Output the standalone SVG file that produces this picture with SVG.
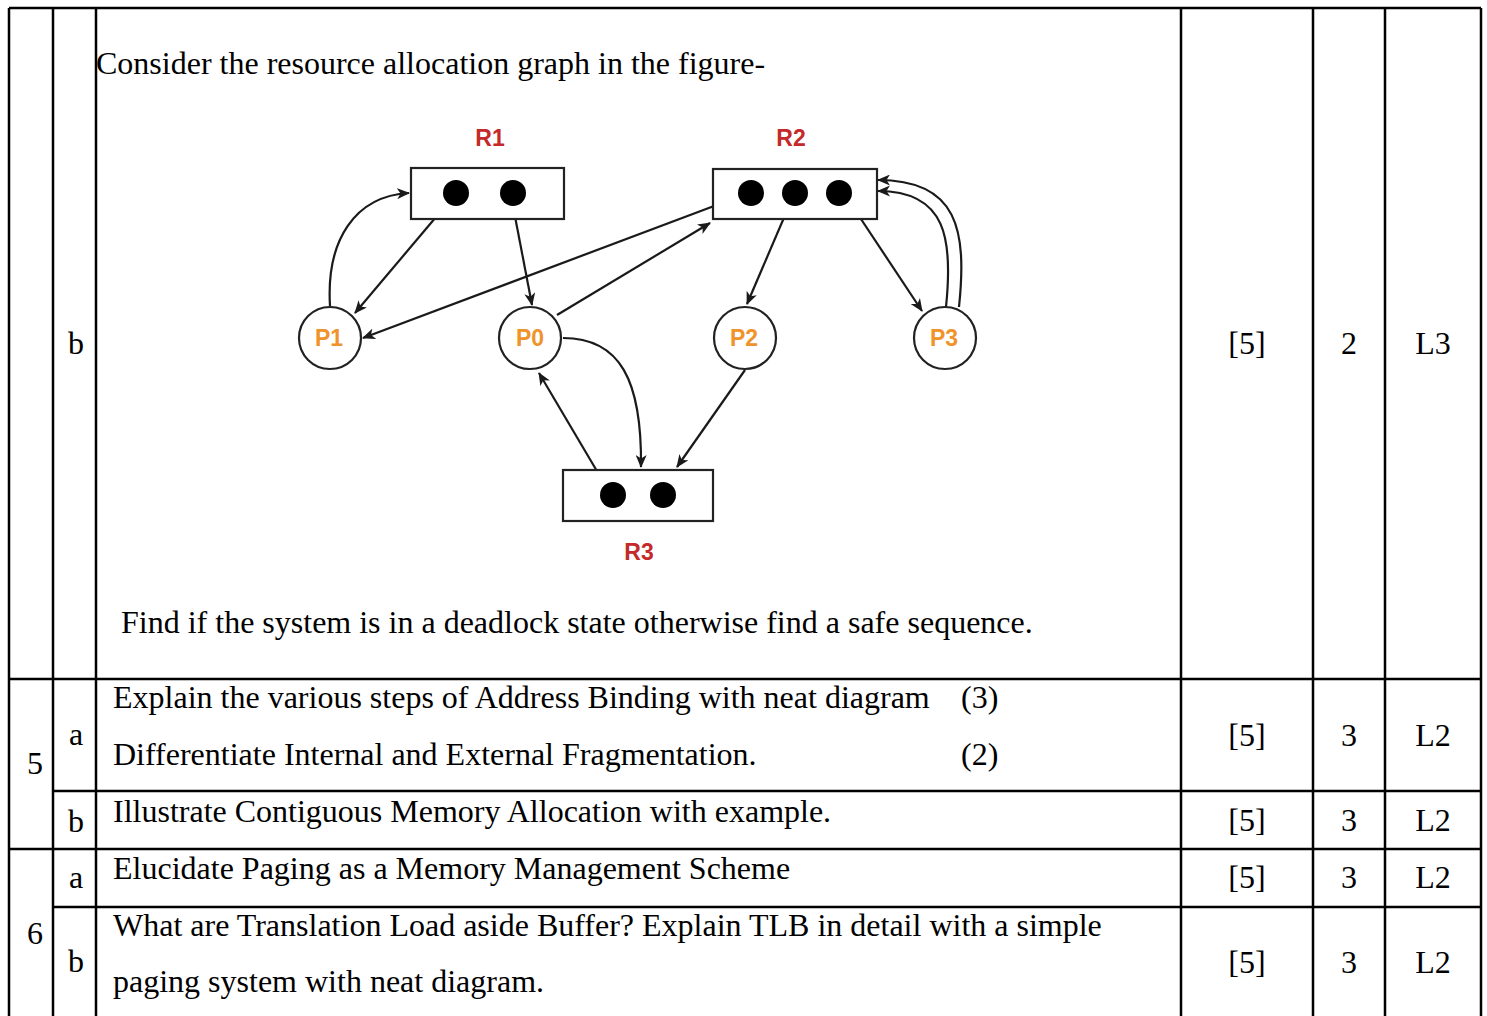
<svg xmlns="http://www.w3.org/2000/svg" width="1487" height="1016" viewBox="0 0 1487 1016">
<style>
.t{font-family:"Liberation Serif","Times New Roman",serif;font-size:32px;fill:#000}
.c{text-anchor:middle}
.tl{stroke:#000;stroke-width:2.5;fill:none}
.box{fill:#fff;stroke:#222;stroke-width:2.2}
.dot{fill:#000}
.rl{font-family:"Liberation Sans",Arial,sans-serif;font-weight:bold;font-size:23px;fill:#c42a2a;text-anchor:middle}
.pl{font-family:"Liberation Sans",Arial,sans-serif;font-weight:bold;font-size:23px;fill:#f0932b;text-anchor:middle}
.e{stroke:#1a1a1a;stroke-width:2.2;fill:none;marker-end:url(#ah)}
</style>
<defs>
<marker id="ah" viewBox="0 0 13 11" refX="12" refY="5.5" markerWidth="13" markerHeight="11" markerUnits="userSpaceOnUse" orient="auto">
<path d="M0,0 L13,5.5 L0,11 L3.5,5.5 z" fill="#1a1a1a"/>
</marker>
</defs>
<rect width="1487" height="1016" fill="#fff"/>
<g id="table">
<line class="tl" x1="9" y1="8" x2="1481" y2="8"/>
<line class="tl" x1="9" y1="8" x2="9" y2="1016"/>
<line class="tl" x1="53" y1="8" x2="53" y2="1016"/>
<line class="tl" x1="96" y1="8" x2="96" y2="1016"/>
<line class="tl" x1="1181" y1="8" x2="1181" y2="1016"/>
<line class="tl" x1="1313" y1="8" x2="1313" y2="1016"/>
<line class="tl" x1="1385" y1="8" x2="1385" y2="1016"/>
<line class="tl" x1="1481" y1="8" x2="1481" y2="1016"/>
<line class="tl" x1="9" y1="679" x2="1481" y2="679"/>
<line class="tl" x1="53" y1="791" x2="1481" y2="791"/>
<line class="tl" x1="9" y1="849" x2="1481" y2="849"/>
<line class="tl" x1="53" y1="907" x2="1481" y2="907"/>
</g>
<g id="texts">
<text class="t" x="96" y="74">Consider the resource allocation graph in the figure-</text>
<text class="t" x="121" y="633">Find if the system is in a deadlock state otherwise find a safe sequence.</text>
<text class="t c" x="76" y="354">b</text>
<text class="t c" x="1247" y="354">[5]</text>
<text class="t c" x="1349" y="354">2</text>
<text class="t c" x="1433" y="354">L3</text>
<text class="t c" x="35" y="774">5</text>
<text class="t c" x="76" y="745">a</text>
<text class="t" x="113" y="708">Explain the various steps of Address Binding with neat diagram</text>
<text class="t" x="961" y="708">(3)</text>
<text class="t" x="113" y="765">Differentiate Internal and External Fragmentation.</text>
<text class="t" x="961" y="765">(2)</text>
<text class="t c" x="1247" y="746">[5]</text>
<text class="t c" x="1349" y="746">3</text>
<text class="t c" x="1433" y="746">L2</text>
<text class="t c" x="76" y="832">b</text>
<text class="t" x="113" y="822">Illustrate Contiguous Memory Allocation with example.</text>
<text class="t c" x="1247" y="831">[5]</text>
<text class="t c" x="1349" y="831">3</text>
<text class="t c" x="1433" y="831">L2</text>
<text class="t c" x="35" y="944">6</text>
<text class="t c" x="76" y="888">a</text>
<text class="t" x="113" y="879">Elucidate Paging as a Memory Management Scheme</text>
<text class="t c" x="1247" y="888">[5]</text>
<text class="t c" x="1349" y="888">3</text>
<text class="t c" x="1433" y="888">L2</text>
<text class="t c" x="76" y="972">b</text>
<text class="t" x="113" y="936">What are Translation Load aside Buffer? Explain TLB in detail with a simple</text>
<text class="t" x="113" y="992">paging system with neat diagram.</text>
<text class="t c" x="1247" y="973">[5]</text>
<text class="t c" x="1349" y="973">3</text>
<text class="t c" x="1433" y="973">L2</text>
</g>
<g id="connectors">
<path class="e" d="M330,306 C326,240 355,196 409,193"/>
<line class="e" x1="447" y1="204" x2="355" y2="313"/>
<line class="e" x1="513" y1="206" x2="532" y2="305"/>
<line class="e" x1="738" y1="197" x2="363" y2="338"/>
<line class="e" x1="557" y1="315" x2="710" y2="223"/>
<line class="e" x1="789" y1="206" x2="747" y2="304"/>
<line class="e" x1="851" y1="204" x2="922" y2="311"/>
<path class="e" d="M959,307 C967,230 958,180 878,180"/>
<path class="e" d="M946,307 C953,240 947,191 878,191"/>
<path class="e" d="M563,338 C620,338 642,380 641,467"/>
<line class="e" x1="604" y1="483" x2="539" y2="373"/>
<line class="e" x1="745" y1="370" x2="677" y2="467"/>
</g>
<g id="R1">
<rect class="box" x="411" y="168" width="153" height="51"/>
<circle class="dot" cx="456" cy="193" r="13"/>
<circle class="dot" cx="513" cy="193" r="13"/>
<text class="rl" x="490" y="146">R1</text>
</g>
<g id="R2">
<rect class="box" x="713" y="169" width="164" height="50"/>
<circle class="dot" cx="751" cy="193" r="13"/>
<circle class="dot" cx="795" cy="193" r="13"/>
<circle class="dot" cx="839" cy="193" r="13"/>
<text class="rl" x="791" y="146">R2</text>
</g>
<g id="R3">
<rect class="box" x="563" y="470" width="150" height="51"/>
<circle class="dot" cx="613" cy="495" r="13"/>
<circle class="dot" cx="663" cy="495" r="13"/>
<text class="rl" x="639" y="560">R3</text>
</g>
<g id="P1">
<circle class="box" cx="330" cy="338" r="31"/>
<text class="pl" x="329" y="346">P1</text>
</g>
<g id="P0">
<circle class="box" cx="530" cy="338" r="31"/>
<text class="pl" x="530" y="346">P0</text>
</g>
<g id="P2">
<circle class="box" cx="745" cy="338" r="31"/>
<text class="pl" x="744" y="346">P2</text>
</g>
<g id="P3">
<circle class="box" cx="945" cy="338" r="31"/>
<text class="pl" x="944" y="346">P3</text>
</g>
</svg>
